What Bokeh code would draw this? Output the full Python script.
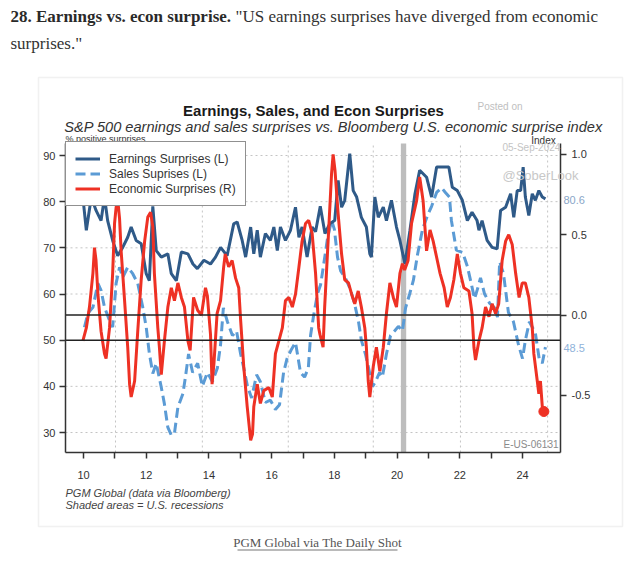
from bokeh.plotting import figure
from bokeh.models import (Range1d, LinearAxis, FixedTicker, BoxAnnotation, Label,
                          Legend, LegendItem, PrintfTickFormatter)
from bokeh.embed import file_html
from bokeh.resources import INLINE

# ---------------- data (x = years after 2000) ----------------
earn_x = [9.98, 10.09, 10.25, 10.40, 10.56, 10.67, 10.77, 10.93, 11.09, 11.25, 11.41, 11.52, 11.68, 11.84,
          12.00, 12.10, 12.21, 12.32, 12.48, 12.69, 12.80, 12.96, 13.12, 13.33, 13.49, 13.63, 13.84, 14.05,
          14.21, 14.37, 14.58, 14.79, 14.90, 15.06, 15.17, 15.33, 15.43, 15.54, 15.64, 15.80, 15.96, 16.07,
          16.18, 16.28, 16.44, 16.60, 16.76, 16.87, 16.97, 17.13, 17.29, 17.40, 17.55, 17.70, 17.85, 18.01,
          18.12, 18.23, 18.33, 18.49, 18.60, 18.71, 18.86, 19.02, 19.13, 19.18, 19.29, 19.40, 19.56, 19.66,
          19.82, 19.98, 20.09, 20.25, 20.41, 20.57, 20.72, 20.94, 21.10, 21.26, 21.52, 21.65, 21.76, 21.92,
          22.08, 22.24, 22.39, 22.55, 22.61, 22.71, 22.87, 23.03, 23.19, 23.30, 23.46, 23.62, 23.72, 23.83,
          23.94, 24.02, 24.09, 24.20, 24.31, 24.41, 24.52, 24.63, 24.73]
earn_y = [81, 73.8, 81, 78.1, 75.9, 81, 75.9, 71.6, 68.3, 70.1, 72.3, 74.5, 71.6, 70.9,
          64.4, 62.9, 79.0, 69.4, 68.0, 68.7, 64.4, 62.9, 69.1, 68.7, 66.5, 65.5, 67.3, 66.5,
          68.0, 70.1, 68.3, 75.2, 75.6, 71.6, 68.0, 74.5, 68.7, 73.8, 68.0, 73.1, 71.6, 74.5,
          69.4, 74.5, 71.6, 73.8, 78.8, 72.3, 74.5, 68.0, 74.5, 73.5, 79.0, 73.1, 75.2, 75.9,
          84.6, 78.8, 80.3, 90.4, 82.4, 81.0, 76.6, 74.5, 68.7, 68.0, 81.0, 76.6, 78.8, 75.9,
          80.3, 74.5, 71.6, 66.5, 73.8, 81.7, 86.8, 85.3, 81.0, 87.5, 87.5, 87.5, 83.1, 82.4,
          80.3, 75.9, 77.7, 75.9, 73.8, 75.9, 71.6, 70.1, 69.8, 78.1, 78.8, 81.7, 76.6, 82.4,
          82.4, 87.5, 81.0, 77.0, 81.7, 80.3, 82.4, 81.0, 80.6]

sales_x = [10.03, 10.14, 10.30, 10.46, 10.56, 10.67, 10.83, 10.93, 11.04, 11.15, 11.25, 11.41, 11.57,
           11.73, 11.89, 12.00, 12.10, 12.21, 12.32, 12.48, 12.58, 12.69, 12.80, 12.90, 13.01, 13.17,
           13.25, 13.35, 13.48, 13.64, 13.79, 13.95, 14.11, 14.27, 14.37, 14.46, 14.59, 14.75, 14.88,
           15.01, 15.11, 15.23, 15.36, 15.52, 15.64, 15.80, 15.96, 16.12, 16.25, 16.38, 16.49, 16.63,
           16.76, 16.92, 17.05, 17.17, 17.24, 17.33, 17.46, 17.56, 17.65, 17.78, 17.91, 18.00, 18.10,
           18.20, 18.35, 18.51, 18.64, 18.77, 18.86, 18.99, 19.09, 19.22, 19.31, 19.44, 19.53, 19.66,
           19.79, 19.92, 20.04, 20.17, 20.27, 20.40, 20.52, 20.65, 20.81, 20.97, 21.10, 21.26, 21.42,
           21.54, 21.67, 21.73, 21.89, 22.09, 22.24, 22.34, 22.47, 22.56, 22.66, 22.79, 22.95, 23.11,
           23.20, 23.27, 23.39, 23.55, 23.71, 23.87, 24.00, 24.09, 24.22, 24.41, 24.53, 24.63, 24.73]
sales_y = [52.8, 55.8, 57.1, 62.3, 60.8, 57.1, 54.3, 52.8, 62.3, 65.8, 63.6, 65.8, 64.4,
           62.3, 57.1, 52.8, 47.1, 42.8, 45.0, 39.8, 36.2, 31.1, 29.4, 29.8, 35.5, 38.4,
           42, 47, 43, 45, 40, 43, 41, 44, 49, 57, 54, 51, 52,
           47, 44, 40, 37.5, 42.5, 41, 36.5, 37, 35, 36, 43, 46, 48,
           49.5, 43, 42, 44, 51, 55, 60, 62, 66, 72, 76, 74, 68,
           65, 63.5, 61, 58, 54, 50, 47, 44, 40, 41, 43, 42, 47,
           51, 52, 53, 52, 57, 60, 63, 68.5, 74, 77, 79, 82, 83,
           82, 81, 76, 69.5, 69, 66, 63, 59, 61, 63.5, 60, 58, 57,
           55, 67, 64.5, 56, 54, 49, 46, 50, 54, 51.5, 46, 45, 48.5]

econ_x = [9.98, 10.09, 10.19, 10.30, 10.35, 10.40, 10.46, 10.56, 10.67, 10.72,
          10.83, 10.93, 10.99, 11.04, 11.09, 11.15, 11.20, 11.31, 11.41, 11.47,
          11.52, 11.63, 11.73, 11.84, 11.95, 12.05, 12.14, 12.21, 12.26, 12.37,
          12.42, 12.48, 12.58, 12.69, 12.80, 12.90, 13.01, 13.12, 13.22, 13.33,
          13.40, 13.51, 13.64, 13.76, 13.89, 13.95, 14.05, 14.10, 14.16, 14.26,
          14.37, 14.47, 14.52, 14.63, 14.74, 14.85, 14.95, 15.01, 15.11, 15.22,
          15.33, 15.39, 15.43, 15.54, 15.64, 15.75, 15.91, 16.02, 16.12, 16.23,
          16.34, 16.44, 16.55, 16.66, 16.76, 16.87, 16.97, 17.08, 17.18, 17.29,
          17.40, 17.50, 17.54, 17.64, 17.69, 17.80, 17.91, 17.96, 18.02, 18.12,
          18.23, 18.33, 18.45, 18.55, 18.65, 18.76, 18.86, 18.97, 19.02, 19.08,
          19.13, 19.24, 19.34, 19.45, 19.56, 19.66, 19.77, 19.88, 19.98, 20.09,
          20.17, 20.24, 20.35, 20.46, 20.62, 20.72, 20.83, 20.94, 21.05, 21.15,
          21.26, 21.37, 21.50, 21.60, 21.70, 21.81, 21.92, 22.02, 22.13, 22.29,
          22.39, 22.45, 22.50, 22.61, 22.71, 22.82, 22.93, 23.03, 23.14, 23.24,
          23.35, 23.46, 23.56, 23.67, 23.78, 23.89, 23.99, 24.09, 24.20, 24.31,
          24.36, 24.47, 24.52, 24.57, 24.63, 24.68]
econ_y = [-0.16, -0.08, 0.05, 0.26, 0.42, 0.34, 0.13, -0.10, -0.24, -0.27,
          -0.08, 0.26, 0.57, 0.67, 0.72, 0.60, 0.40, 0.09, -0.20, -0.43,
          -0.51, -0.41, -0.10, 0.22, 0.46, 0.61, 0.64, 0.55, 0.26, -0.08,
          -0.20, -0.37, -0.16, 0.05, 0.17, 0.09, 0.20, 0.11, 0.05, -0.16,
          -0.22, 0.11, 0.03, 0.00, 0.17, 0.12, -0.12, -0.43, -0.30, 0.01,
          0.09, 0.30, 0.38, 0.30, 0.34, 0.23, 0.17, -0.03, -0.32, -0.57,
          -0.78, -0.74, -0.57, -0.43, -0.55, -0.47, -0.45, -0.51, -0.24, -0.16,
          -0.08, 0.09, 0.11, 0.05, 0.13, 0.30, 0.46, 0.57, 0.59, 0.51,
          0.26, -0.08, -0.12, -0.20, 0.05, 0.46, 0.88, 1.00, 0.90, 0.63,
          0.38, 0.22, 0.20, 0.13, 0.07, 0.15, 0.05, -0.08, -0.20, -0.41,
          -0.51, -0.32, -0.20, -0.35, -0.20, 0.01, 0.20, 0.11, 0.05, 0.26,
          0.32, 0.28, 0.34, 0.57, 0.71, 0.86, 0.71, 0.40, 0.53, 0.46,
          0.36, 0.26, 0.17, 0.05, 0.11, 0.22, 0.38, 0.26, 0.17, 0.15,
          0.01, -0.20, -0.28, -0.16, -0.08, 0.05, -0.01, 0.07, 0.01, 0.07,
          0.34, 0.46, 0.50, 0.44, 0.26, 0.11, 0.20, 0.20, 0.11, -0.08,
          -0.24, -0.41, -0.49, -0.41, -0.57, -0.60]

recession_start = [20.12]
recession_end = [20.29]

x_ticks = list(range(10, 25))
x_tick_labels = {t: (str(t) if t % 2 == 0 else "") for t in x_ticks}
left_ticks = [30, 40, 50, 60, 70, 80, 90]
right_ticks = [-0.5, 0.0, 0.5, 1.0]
vgrid_x = [11.02, 13.79, 16.53, 19.24, 22.02, 24.80]
hgrid_y = [30, 40, 60, 70, 80, 90]
ref_left = [50]
ref_right = [0.0]

series_names = ["Earnings Surprises (L)", "Sales Suprises (L)", "Economic Surprises (R)"]

# ---------------- layout ----------------
W, H = 640, 563
# inner chart box in canvas pixels
L, R, T, B = 65, 560, 143, 452
# scales: year 10 at px 83, 31.36 px / year; left 90 at py 155, 4.617 px / unit;
# right 0 at py 314.6, 160.7 px / unit
XPX0, XPPU = 83.0, 31.36
YPX90, YPPU = 155.0, 4.617
EPX0, EPPU = 314.6, 160.7


def dx(px):
    return 10 + (px - XPX0) / XPPU


def dy(py):
    return 90 + (YPX90 - py) / YPPU


def de(py):
    return (EPX0 - py) / EPPU


X0, X1 = dx(L), dx(R)
Y0, Y1 = dy(B), dy(T)
E0, E1 = de(B), de(T)

C_EARN = "#2F5A88"
C_SALES = "#5B9BD5"
C_ECON = "#EE3124"
FONT = "Liberation Sans"
SERIF = "Liberation Serif"

p = figure(width=W, height=H, x_range=Range1d(dx(0), dx(W)), y_range=Range1d(dy(H), dy(0)),
           output_backend="svg", toolbar_location=None, title=None,
           min_border_left=0, min_border_right=0, min_border_top=0, min_border_bottom=0)
p.extra_y_ranges = {"econ": Range1d(de(H), de(0))}
p.outline_line_color = None
p.background_fill_color = "white"
p.border_fill_color = "white"
p.xgrid.visible = False
p.ygrid.visible = False

# axes drawn at the inner chart box edges
xa = p.xaxis[0]
xa.ticker = FixedTicker(ticks=x_ticks)
xa.major_label_overrides = x_tick_labels
xa.fixed_location = Y0
xa.bounds = (X0, X1)
ya = p.yaxis[0]
ya.ticker = FixedTicker(ticks=left_ticks)
ya.fixed_location = X0
ya.bounds = (Y0, Y1)
ra = LinearAxis(y_range_name="econ", ticker=FixedTicker(ticks=right_ticks),
                formatter=PrintfTickFormatter(format="%.1f"), fixed_location=X1, bounds=(E0, E1))
p.add_layout(ra, "right")
for ax in (xa, ya, ra):
    ax.axis_line_color = "#333333"
    ax.axis_line_width = 1.5
    ax.major_tick_line_color = "#333333"
    ax.major_tick_line_width = 1.5
    ax.major_tick_out = 6
    ax.major_tick_in = 0
    ax.minor_tick_line_color = None
    ax.major_label_text_font = FONT
    ax.major_label_text_font_size = "11px"
    ax.major_label_text_color = "#333333"
xa.major_label_standoff = 12
ya.major_label_standoff = 4
ra.major_label_standoff = 5

# dotted gridlines limited to the inner box
p.segment(x0=vgrid_x, x1=vgrid_x, y0=[Y0] * len(vgrid_x), y1=[Y1] * len(vgrid_x),
          line_color="#c4c4c4", line_width=1, line_dash="2 3")
p.segment(x0=[X0] * len(hgrid_y), x1=[X1] * len(hgrid_y), y0=hgrid_y, y1=hgrid_y,
          line_color="#c4c4c4", line_width=1, line_dash="2 3")

# recession shading
p.quad(left=recession_start, right=recession_end, top=[Y1] * len(recession_start),
       bottom=[Y0] * len(recession_start), fill_color="#bdbdbd", line_color=None)

# series
r_sales = p.line(sales_x, sales_y, line_color=C_SALES, line_width=3, line_dash="10 5")
r_earn = p.line(earn_x, earn_y, line_color=C_EARN, line_width=3)
r_econ = p.line(econ_x, econ_y, line_color=C_ECON, line_width=3, y_range_name="econ")
p.scatter([econ_x[-1]], [econ_y[-1]], size=10, color=C_ECON, y_range_name="econ")

# reference lines (left 50, right 0)
p.segment(x0=[X0] * len(ref_left), x1=[X1] * len(ref_left), y0=ref_left, y1=ref_left,
          line_color="#222222", line_width=1.5)
p.segment(x0=[X0] * len(ref_right), x1=[X1] * len(ref_right), y0=ref_right, y1=ref_right,
          line_color="#222222", line_width=1.5, y_range_name="econ")

LEG_PAD, LEG_ROW = 9, 15
leg_h = 2 * LEG_PAD + 3 * LEG_ROW
legend = Legend(items=[LegendItem(label=series_names[0], renderers=[r_earn]),
                       LegendItem(label=series_names[1], renderers=[r_sales]),
                       LegendItem(label=series_names[2], renderers=[r_econ])],
                location=(L, H - (T + leg_h)), margin=0, padding=LEG_PAD, spacing=0,
                border_line_color="#222222", border_line_width=1.5,
                background_fill_color="white", background_fill_alpha=1.0,
                label_text_font=FONT, label_text_font_size="12px", label_text_color="#333333",
                glyph_width=25, glyph_height=LEG_ROW, label_height=LEG_ROW, label_standoff=9)
p.add_layout(legend)


# ---------- page texts, positioned in canvas pixels ----------
def add_text(text, px, py, size, color="#333333", align="left", style="normal", font=FONT):
    p.add_layout(Label(x=dx(px), y=dy(py), text=text, text_font=font,
                       text_font_size=size, text_color=color, text_align=align,
                       text_baseline="middle", text_font_style=style))


def add_box(x0, y0, x1, y1, **kw):
    p.add_layout(BoxAnnotation(left=dx(x0), right=dx(x1), top=dy(y0), bottom=dy(y1), **kw))


add_box(38, 77, 622, 526, fill_color=None, fill_alpha=0, line_color="#d0d0d0", line_width=1.5)
add_box(237, 549, 397, 550, fill_color="#777777", fill_alpha=1.0, line_color=None)

add_text("28. Earnings vs. econ surprise.", 10, 16, "17px", "#2a2a2a", style="bold", font=SERIF)
add_text("\"US earnings surprises have diverged from economic", 235, 16, "17px", "#333333", font=SERIF)
add_text("surprises.\"", 10, 43, "17px", "#333333", font=SERIF)

add_text("Earnings, Sales, and Econ Surprises", 313, 110, "15px", "#1a1a1a", "center", "bold")
add_text("S&P 500 earnings and sales surprises vs. Bloomberg U.S. economic surprise index",
         333, 126, "14.6px", "#333333", "center", "italic")
add_text("Posted on", 477, 106, "10px", "#c0c0c0")
add_text("% positive surprises", 65, 138, "9px", "#333333")
add_text("Index", 543, 140, "10px", "#333333", "center")
add_text("05-Sep-2024", 502, 147, "10px", "#c4c4c4")
add_text("@SoberLook", 502, 175, "13px", "#c8c8c8")
add_text(f"{earn_y[-1]:.1f}", 563, 199, "11px", "#8aa6c8")
add_text(f"{sales_y[-1]:.1f}", 563, 347, "11px", "#8fb2da")
add_text("E-US-06131", 558, 444, "10px", "#8a8a8a", "right")
add_text("PGM Global (data via Bloomberg)", 65, 492, "11px", "#444444", style="italic")
add_text("Shaded areas = U.S. recessions", 65, 504, "11px", "#444444", style="italic")
add_text("PGM Global via The Daily Shot", 317, 542, "13px", "#555555", "center", font=SERIF)

open("out.html", "w").write(file_html(p, INLINE))
